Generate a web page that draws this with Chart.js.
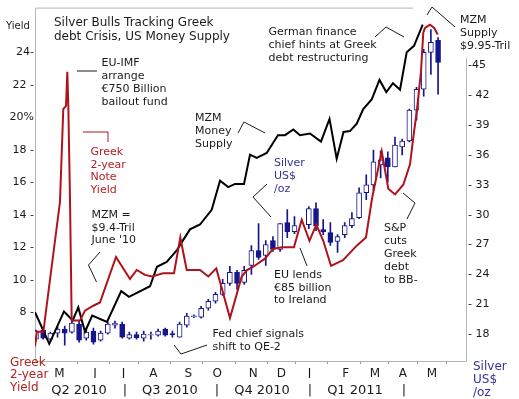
<!DOCTYPE html>
<html><head><meta charset="utf-8">
<script src="https://cdn.jsdelivr.net/npm/chart.js@4"></script>
<style>html,body{margin:0;padding:0;background:#fff;}canvas{display:block;}</style>
</head><body>
<canvas id="c" width="519" height="399"></canvas>
<script>
// ---- data (weeks counted from the first silver candle, early April 2010) ----
const silverWeek  = [0,1,2,3,4,5,6,7,8,9,10,11,12,13,14,15,16,17,18,19,20,21,22,23,24,25,26,27,28,29,30,31,32,33,34,35,36,37,38,39,40,41,42,43,44,45,46,47,48,49,50,51,52,53,54,55,56];
const silverOpen  = [17.5,18.4,17.5,18.1,18.5,18.2,19.0,17.6,18.3,17.4,18.1,18.9,19.0,17.6,17.95,17.6,17.9,17.9,18.5,18.05,17.7,18.9,19.75,19.7,20.6,21.3,22.0,23.1,24.2,23.2,24.9,26.4,25.9,27.4,26.5,29.2,28.3,null,29.0,30.6,28.5,28.2,27.3,28.0,28.9,29.7,32.2,33.0,35.0,35.7,34.8,36.8,37.4,40.5,42.6,46.3,47.5];
const silverHigh  = [18.4,18.5,18.2,18.7,18.8,19.3,19.3,18.6,18.6,18.3,19.2,19.3,19.2,18.2,18.2,18.3,18.2,18.5,18.6,18.3,19.2,20.1,19.95,20.8,21.5,22.2,23.5,24.8,24.4,24.8,26.9,29.1,27.4,27.8,29.1,30.5,29.8,null,30.8,31.2,29.5,29.2,28.0,29.2,30.2,32.7,34.0,36.5,36.4,36.3,37.8,37.6,40.6,42.8,46.6,48.6,47.8];
const silverLow   = [17.3,17.5,17.4,17.7,16.9,18.1,17.2,17.4,17.0,17.3,18.0,18.6,17.6,17.5,17.5,17.3,17.5,17.8,17.8,17.7,17.7,18.7,19.65,19.6,20.4,21.1,21.9,22.9,22.5,23.0,24.0,25.5,24.9,26.3,26.3,27.7,28.1,null,28.6,28.4,28.0,26.9,26.2,27.7,28.7,29.6,31.5,32.4,33.7,33.3,34.8,36.0,37.3,39.5,41.9,44.1,42.1];
const silverClose = [18.3,17.6,18.1,18.5,18.1,19.1,17.4,18.2,17.2,18.1,19.0,19.1,17.7,17.95,17.65,18.0,17.95,18.3,17.9,17.95,19.0,19.8,19.85,20.6,21.3,22.0,23.1,24.2,23.1,24.4,26.4,25.7,27.0,26.5,29.1,28.3,28.9,null,30.6,28.9,28.3,27.2,27.8,28.9,29.6,32.2,33.0,35.3,35.5,34.8,37.0,37.4,40.5,42.6,46.3,47.3,45.3];

const greekWeek  = [-0.14,0.10,1.02,3.34,3.80,4.18,4.36,4.50,4.74,4.97,6.13,6.82,7.98,8.91,11.14,13.09,14.03,15.18,16.16,17.69,19.22,20.10,20.99,22.84,24.00,25.11,27.02,28.65,29.39,30.26,31.89,33.01,34.26,35.93,37.01,38.09,39.04,40.01,41.09,42.76,44.67,45.96,46.80,48.15,49.07,50.00,51.16,52.09,52.65,53.02,53.62,53.94,54.18,54.87,55.47,55.95];
const greekYield = [5.9,6.8,6.8,14.8,20.5,20.7,22.8,20.7,14.8,7.5,7.5,8.1,8.4,8.6,11.4,10.05,10.6,10.3,10.2,10.4,10.4,12.6,10.6,10.6,10.2,10.7,7.65,10.2,10.6,10.8,11.3,11.9,12.0,12.0,13.7,12.4,13.4,12.4,10.85,11.2,12.1,12.6,15.0,17.9,15.6,15.25,15.85,17.1,19.1,20.3,22.8,25.2,25.5,25.7,25.5,25.1];

const mzmWeek  = [-0.14,1.85,3.90,5.11,5.89,6.82,7.83,9.89,11.87,12.95,15.88,16.85,18.20,19.60,20.29,21.45,22.84,24.47,25.63,26.78,27.72,28.97,29.81,30.74,32.13,33.70,34.68,35.84,36.77,38.16,39.69,40.88,41.88,42.83,43.73,44.67,45.58,46.76,47.84,48.79,49.72,50.70,51.63,52.65,53.86];
const mzmLevel = [8.0,6.05,8.05,7.5,8.3,6.8,7.8,7.4,9.3,8.95,9.6,10.8,11.1,11.8,12.3,13.1,13.4,14.3,16.1,15.7,15.9,15.9,17.7,17.5,17.8,18.9,18.9,19.25,18.9,19.0,18.5,19.9,17.45,19.1,19.15,19.6,20.5,21.1,22.3,21.55,22.1,21.7,24.0,24.4,25.7];

const monthPos    = [3.25,8.22,12.19,16.34,21.21,25.25,30.26,34.19,38.09,43.13,47.21,51.11,55.15];
const monthLabels = ['M','J','J','A','S','O','N','D','J','F','M','A','M'];
const quarterPos    = [5.99,12.4,18.66,25.2,31.48,38.16,44.43,51.25];
const quarterLabels = ['Q2 2010','|','Q3 2010','|','Q4 2010','|','Q1 2011','|'];
const yieldTicks  = [8,10,12,14,16,18,20,22,24];
const yieldLabels = ['8 -','10 -','12 -','14 -','16 -','18 -','20%','22 -','24-'];
const silverTicks  = [18,21,24,27,30,33,36,39,42,45];
const silverLabels = ['- 18','- 21','- 24','- 27','- 30','- 33','- 36','- 39','- 42','-45'];

// ---- styling / decoration ----
const NAVY = '#15158c', RED = '#b0121c', NAVYTXT = '#333399', REDTXT = '#b22222', INK = '#1a1a1a';
Chart.defaults.font.family = "'DejaVu Sans', Verdana, sans-serif";

const notes = [
  {x:54, y:23, lh:13.5, size:12, color:INK, lines:['Silver Bulls Tracking Greek','debt Crisis, US Money Supply']},
  {x:6, y:26, lh:12, size:10, color:INK, lines:['Yield']},
  {x:101.5, y:63, lh:12.9, size:11, color:INK, lines:['EU-IMF','arrange','€750 Billion','bailout fund']},
  {x:90.5, y:152, lh:12.7, size:11, color:REDTXT, lines:['Greek','2-year','Note','Yield']},
  {x:195, y:118, lh:13.3, size:11, color:INK, lines:['MZM','Money','Supply']},
  {x:274, y:163, lh:13, size:11, color:NAVYTXT, lines:['Silver','US$','/oz']},
  {x:91.5, y:215, lh:12.8, size:11, color:INK, lines:['MZM =','$9.4-Tril',"June '10"]},
  {x:212.5, y:334.5, lh:12.4, size:11, color:INK, lines:['Fed chief signals','shift to QE-2']},
  {x:274, y:275, lh:12.8, size:11, color:INK, lines:['EU lends','€85 billion','to Ireland']},
  {x:384, y:228.5, lh:12.9, size:11, color:INK, lines:['S&P','cuts','Greek','debt','to BB-']},
  {x:268.5, y:32.5, lh:12.7, size:11, color:INK, lines:['German finance','chief hints at Greek','debt restructuring']},
  {x:460, y:20, lh:12.9, size:11, color:INK, lines:['MZM','Supply','$9.95-Tril']},
  {x:10, y:362.5, lh:12.8, size:12, color:REDTXT, lines:['Greek','2-year','Yield']},
  {x:473, y:366.5, lh:13, size:12, color:NAVYTXT, lines:['Silver','US$','/oz']}
];
const connectors = [
  {color:INK, pts:[[77,71],[97,71]]},
  {color:RED, pts:[[83,132],[108,132],[108,142]]},
  {color:INK, pts:[[238,133],[244,122],[265,133]]},
  {color:INK, pts:[[267,184],[253,197],[271,217]]},
  {color:INK, pts:[[100,252],[88.5,265],[96.5,282]]},
  {color:INK, pts:[[174,345],[181,354],[207,345]]},
  {color:INK, pts:[[300,248],[307,266]]},
  {color:INK, pts:[[403,193],[415,203],[407,219]]},
  {color:INK, pts:[[375,37],[386,27],[404,37]]},
  {color:INK, pts:[[427,15],[432,7],[455,27]]}
];

const wicks = [], bodies = [];
silverWeek.forEach((w, i) => {
  const o = silverOpen[i], c = silverClose[i];
  if (o == null) return;
  wicks.push({x: w, y: [silverLow[i], silverHigh[i]]});
  bodies.push({x: w, y: [Math.min(o, c), Math.max(o, c)], up: c >= o});
});

const framePlugin = {
  id: 'frame',
  beforeDatasetsDraw(chart) {
    const {ctx, chartArea: a} = chart;
    ctx.save();
    ctx.strokeStyle = '#b4b4b4'; ctx.lineWidth = 1;
    ctx.beginPath();
    ctx.moveTo(413, a.top + 0.5); ctx.lineTo(a.left + 0.5, a.top + 0.5);
    ctx.lineTo(a.left + 0.5, a.bottom + 0.5); ctx.lineTo(a.right - 0.5, a.bottom + 0.5);
    ctx.lineTo(a.right - 0.5, 58);
    ctx.stroke();
    ctx.restore();
  }
};
const notesPlugin = {
  id: 'notes',
  afterDraw(chart) {
    const ctx = chart.ctx;
    ctx.save();
    connectors.forEach(cn => {
      ctx.strokeStyle = cn.color; ctx.lineWidth = 1;
      ctx.beginPath();
      cn.pts.forEach((p, k) => k ? ctx.lineTo(p[0], p[1]) : ctx.moveTo(p[0], p[1]));
      ctx.stroke();
    });
    ctx.textBaseline = 'middle'; ctx.textAlign = 'left';
    notes.forEach(n => {
      ctx.fillStyle = n.color;
      ctx.font = n.size + "px 'DejaVu Sans', Verdana, sans-serif";
      n.lines.forEach((t, k) => ctx.fillText(t, n.x, n.y + k * n.lh));
    });
    ctx.restore();
  }
};

new Chart(document.getElementById('c'), {
  type: 'bar',
  data: {
    datasets: [
      {type: 'line', label: 'Greek 2-year yield', data: greekWeek.map((w, i) => ({x: w, y: greekYield[i]})),
       yAxisID: 'y', borderColor: RED, borderWidth: 2, pointRadius: 0, tension: 0, order: 0},
      {type: 'line', label: 'MZM', data: mzmWeek.map((w, i) => ({x: w, y: mzmLevel[i]})),
       yAxisID: 'y', borderColor: '#000', borderWidth: 2, pointRadius: 0, tension: 0, order: 1},
      {label: 'bodies', data: bodies, yAxisID: 'y2', grouped: false, barThickness: 5,
       backgroundColor: ctx => (ctx.raw && ctx.raw.up) ? '#fff' : NAVY,
       borderColor: NAVY, borderWidth: 1, borderSkipped: false, order: 2},
      {label: 'wicks', data: wicks, yAxisID: 'y2', grouped: false, barThickness: 1,
       backgroundColor: NAVY, borderWidth: 0, order: 3}
    ]
  },
  options: {
    responsive: false, animation: false,
    layout: {padding: {top: 5, left: 0, right: 0, bottom: 0}},
    plugins: {legend: {display: false}, tooltip: {enabled: false}},
    scales: {
      x: {type: 'linear', position: 'bottom', min: -0.14, max: 60.03, offset: false, weight: 0,
          afterBuildTicks: s => { s.ticks = monthPos.map(v => ({value: v})); },
          afterFit: s => { s.height = 17; },
          ticks: {autoSkip: false, maxRotation: 0, padding: 3, color: INK, font: {size: 12},
                  callback: (v, i) => monthLabels[i]},
          grid: {drawOnChartArea: false, drawTicks: true, tickLength: 3, color: '#999'},
          border: {display: false}},
      x2: {type: 'linear', position: 'bottom', min: -0.14, max: 60.03, offset: false, weight: 1,
           afterBuildTicks: s => { s.ticks = quarterPos.map(v => ({value: v})); },
           afterFit: s => { s.height = 21; },
           ticks: {autoSkip: false, maxRotation: 0, padding: 5, color: INK, font: {size: 13},
                   callback: (v, i) => quarterLabels[i]},
           grid: {display: false, drawTicks: false}, border: {display: false}},
      y: {position: 'left', min: 5, max: 26.75,
          afterBuildTicks: s => { s.ticks = yieldTicks.map(v => ({value: v})); },
          afterFit: s => { s.width = 35; },
          ticks: {padding: 1, color: INK, font: {size: 11}, callback: (v, i) => yieldLabels[i]},
          grid: {display: false, drawTicks: false}, border: {display: false}},
      y2: {position: 'right', min: 15.3, max: 50.8,
           afterBuildTicks: s => { s.ticks = silverTicks.map(v => ({value: v})); },
           afterFit: s => { s.width = 52; },
           ticks: {padding: 1, color: INK, font: {size: 11}, callback: (v, i) => silverLabels[i]},
           grid: {display: false, drawTicks: false}, border: {display: false}}
    }
  },
  plugins: [framePlugin, notesPlugin]
});
</script>
</body></html>
